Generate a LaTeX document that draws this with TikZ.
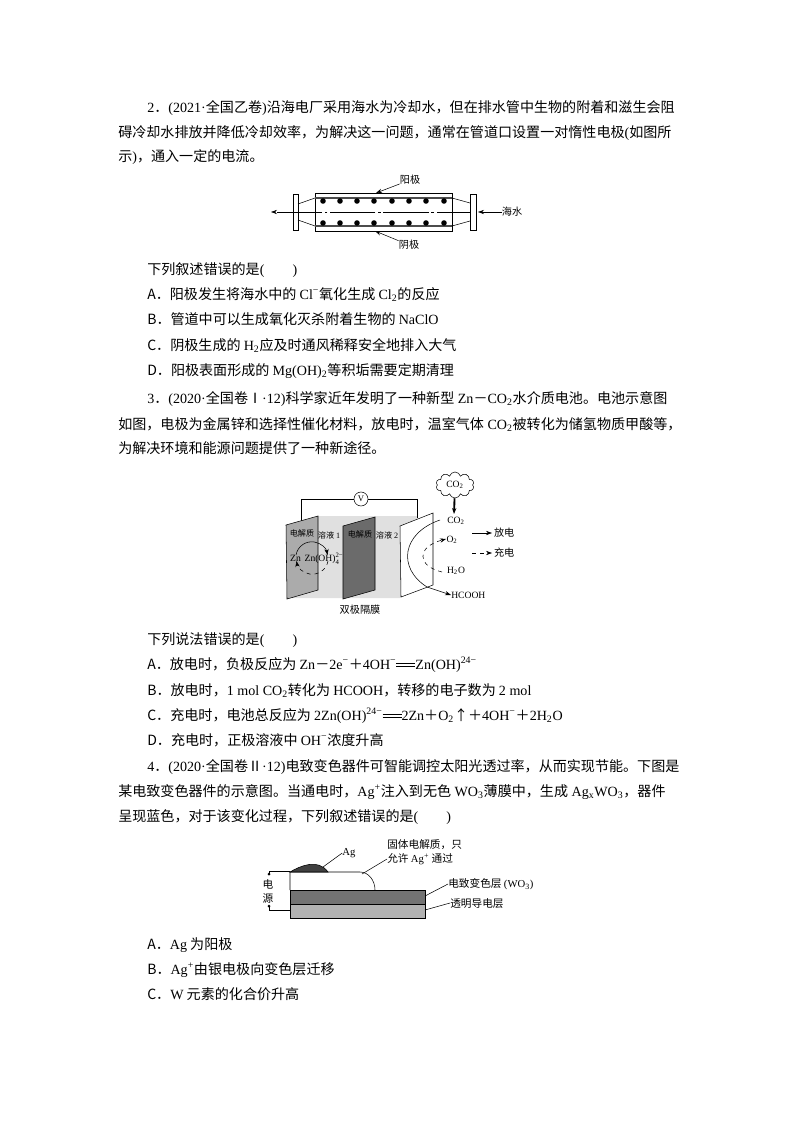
\documentclass[tikz,border=0pt]{standalone}
\usepackage{amsmath}
\usepackage{fontspec}
\usetikzlibrary{shapes.symbols,arrows.meta}
\setmainfont{Noto Sans CJK SC}
\newfontfamily\lat{Liberation Serif}
\XeTeXlinebreaklocale "zh"
\XeTeXlinebreakskip=0pt plus 2pt minus 0.5pt
\newcommand{\dn}[1]{$_{\text{\lat #1}}$}
\newcommand{\up}[1]{$^{\text{\lat #1}}$}
\newcommand{\eqq}{\rlap{\rule[.16em]{1.35em}{.07em}}\rule[.36em]{1.35em}{.07em}}
\tikzset{
    para/.style={anchor=base west,inner sep=0pt,font=\fontsize{10.55}{13}\selectfont},
    lab/.style={inner sep=0pt,font=\fontsize{7.6}{9}\selectfont},
    dev lab/.style={inner sep=0pt,font=\fontsize{8}{10}\selectfont},
    tiny lab/.style={inner sep=0pt,font=\fontsize{6.1}{7}\selectfont},
    chem lab/.style={inner sep=0pt,font=\fontsize{7.2}{8}\selectfont},
}
\begin{document}
\begin{tikzpicture}[x=0.75pt,y=-0.75pt,>={Stealth[length=4.5pt,width=3.2pt]}]
    \path[use as bounding box,fill=white] (0,0) rectangle (794,1123);
    %% question 2
    \node[para] (qa1) at (147,113) {\makebox[394.5pt][s]{{\lat 2}．{\lat (2021·}全国乙卷{\lat )}沿海电厂采用海水为冷却水，但在排水管中生物的附着和滋生会阻}};
    \node[para] (qa2) at (118,138) {\makebox[417pt][s]{碍冷却水排放并降低冷却效率，为解决这一问题，通常在管道口设置一对惰性电极{\lat (}如图所}};
    \node[para] (qa3) at (118,162) {示{\lat )}，通入一定的电流。};
    \node[para] (qa4) at (147,274) {下列叙述错误的是{\lat (}\hspace{2em}{\lat )}};
    \node[para] (qaA) at (147,299) {A．阳极发生将海水中的 {\lat Cl}\up{−}氧化生成 {\lat Cl}\dn{2}的反应};
    \node[para] (qaB) at (147,324) {B．管道中可以生成氧化灭杀附着生物的 {\lat NaClO}};
    \node[para] (qaC) at (147,350) {C．阴极生成的 {\lat H}\dn{2}应及时通风稀释安全地排入大气};
    \node[para] (qaD) at (147,375) {D．阳极表面形成的 {\lat Mg(OH)}\dn{2}等积垢需要定期清理};
    %% question 3
    \node[para] (qb1) at (147,403) {\makebox[394.5pt][s]{{\lat 3}．{\lat (2020·}全国卷Ⅰ{\lat ·12)}科学家近年发明了一种新型\hspace{.25em}{\lat Zn}－{\lat CO}\dn{2}水介质电池。电池示意图}};
    \node[para] (qb2) at (118,429) {\makebox[418.5pt][s]{如图，电极为金属锌和选择性催化材料，放电时，温室气体\hspace{.25em}{\lat CO}\dn{2}被转化为储氢物质甲酸等，}};
    \node[para] (qb3) at (118,453) {为解决环境和能源问题提供了一种新途径。};
    \node[para] (qb4) at (147,644) {下列说法错误的是{\lat (}\hspace{2em}{\lat )}};
    \node[para] (qbA) at (147,669) {A．放电时，负极反应为 {\lat Zn}－{\lat 2e}\up{−}＋{\lat 4OH}\up{−}\eqq{\lat Zn(OH)}\up{24−}};
    \node[para] (qbB) at (147,695) {B．放电时，{\lat 1 mol CO}\dn{2}转化为 {\lat HCOOH}，转移的电子数为 {\lat 2 mol}};
    \node[para] (qbC) at (147,720) {C．充电时，电池总反应为 {\lat 2Zn(OH)}\up{24−}\eqq{\lat 2Zn}＋{\lat O}\dn{2}↑＋{\lat 4OH}\up{−}＋{\lat 2H}\dn{2}{\lat O}};
    \node[para] (qbD) at (147,745) {D．充电时，正极溶液中 {\lat OH}\up{−}浓度升高};
    %% question 4
    \node[para] (qc1) at (147,771) {\makebox[394.5pt][s]{{\lat 4}．{\lat (2020·}全国卷Ⅱ{\lat ·12)}电致变色器件可智能调控太阳光透过率，从而实现节能。下图是}};
    \node[para] (qc2) at (118,796) {\makebox[416.25pt][s]{某电致变色器件的示意图。当通电时，{\lat Ag}\up{+}注入到无色\hspace{.25em}{\lat WO}\dn{3}薄膜中，生成\hspace{.25em}{\lat Ag}\dn{x}{\lat WO}\dn{3}，器件}};
    \node[para] (qc3) at (118,821) {呈现蓝色，对于该变化过程，下列叙述错误的是{\lat (}\hspace{2em}{\lat )}};
    \node[para] (qcA) at (147,949) {A．{\lat Ag} 为阳极};
    \node[para] (qcB) at (147,974) {B．{\lat Ag}\up{+}由银电极向变色层迁移};
    \node[para] (qcC) at (147,999) {C．{\lat W} 元素的化合价升高};
    %% pipe
    \draw (315,193) rectangle (452,231);
    \draw[thick,black!70] (315,198) -- (452,198);
    \draw[thick,black!70] (315,226) -- (452,226);
    \draw[fill=white] (293,194) rectangle (298,230);
    \draw[fill=white] (470,194) rectangle (476,230);
    \draw (298,204) -- (315,198) (298,220) -- (315,226);
    \draw (452,198) -- (470,203) (452,226) -- (470,221);
    \foreach \x in {323,340,357,374,392,409,426,444} {
        \fill (\x,201) circle (2.8);
        \fill (\x,223) circle (2.8);
    }
    \coordinate (pipeend) at (271,212);
    \coordinate (pipestart) at (470,212);
    \draw[->,dash pattern=on 34pt off 2pt on 2pt off 2pt,dash phase=9pt] (pipestart) -- (pipeend);
    \node[lab] (seawater) at (512,212) {海水};
    \coordinate (pipein) at (478,212);
    \draw[->] (seawater) -- (pipein);
    \node[lab] (anode) at (410,180) {阳极};
    \node[lab] (cathode) at (409,245) {阴极};
    \coordinate (anodeend) at (376,193);
    \coordinate (cathodeend) at (375,231);
    \draw[->] (anode) -- (anodeend);
    \draw[->] (cathode) -- (cathodeend);
    %% battery
    \fill[black!12] (318,516) -- (417,516) -- (417,560) -- (400,598) -- (287,598) -- cycle;
    \node[draw,circle,minimum size=10.5pt,inner sep=0pt,fill=white,font=\fontsize{6.5}{7}\selectfont] (volt) at (361,499) {\lat V};
    \coordinate (wirea) at (301,521);
    \coordinate (wireb) at (417,518);
    \draw (wirea) |- (volt) -| (wireb);
    \draw[fill=black!33] (286,525) -- (318,516) -- (318,590) -- (287,599) -- cycle;
    \draw[fill=black!58] (343,526) -- (375,517) -- (375,590) -- (343,599) -- cycle;
    \draw[fill=white] (400,526) -- (433,513) -- (433,585) -- (401,597) -- cycle;
    \node[tiny lab] (elyta) at (302,533) {电解质};
    \node[tiny lab] (solna) at (329,535) {溶液 {\lat 1}};
    \node[tiny lab] (elytb) at (360,534) {电解质};
    \node[tiny lab] (solnb) at (387,535) {溶液 {\lat 2}};
    \node[chem lab] (zn) at (295.5,558) {\lat Zn};
    \node[chem lab] (znoh) at (324,559) {{\lat Zn(OH)}$^{\text{\lat 2−}}_{\text{\lat 4}}$};
    \draw[->] (296,555) arc (-170:-10:16);
    \draw[->,dashed] (328,561) arc (10:170:16);
    \node[cloud,draw,cloud puffs=10,aspect=1.5,inner sep=0pt,minimum width=28.5pt,minimum height=19.5pt,chem lab] (cloud) at (455,485) {{\lat CO}\dn{2}};
    \node[chem lab] (coa) at (456,521) {{\lat CO}\dn{2}};
    \coordinate (coatop) at (454,514);
    \draw[->,line width=1.4pt] (cloud) -- (coatop);
    \node[chem lab] (otwo) at (452,540) {{\lat O}\dn{2}};
    \node[chem lab] (water) at (456,571) {{\lat H}\dn{2}{\lat O}};
    \node[chem lab,anchor=west] (formic) at (451,595) {\lat HCOOH};
    \coordinate (curvea) at (440,520);
    \coordinate (curveb) at (427,587);
    \coordinate (dasha) at (442,572);
    \coordinate (dashb) at (446,539);
    \draw[->] (curvea) .. controls (402,533) and (397,568) .. (curveb) -- (formic.west);
    \draw[->,dashed] (dasha) .. controls (417,566) and (416,547) .. (dashb);
    \node[lab,anchor=west,outer sep=1.5pt] (disch) at (492,533) {放电};
    \node[lab,anchor=west,outer sep=1.5pt] (charg) at (492,553) {充电};
    \coordinate (dischs) at (472,533);
    \coordinate (chargs) at (472,553);
    \draw[->] (dischs) -- (disch);
    \draw[->,dashed] (chargs) -- (charg);
    \node[lab] (membrane) at (360,610) {双极隔膜};
    %% film device
    \draw[fill=black!55] (290,890) rectangle (425,904);
    \draw[fill=black!30] (290,904) rectangle (425,918);
    \draw (290,890) -- (290,872) -- (360,872) arc (-90:0:15 and 18);
    \draw[fill=black!75] (290,872) .. controls (300,866) and (318,858) .. (328,872) -- cycle;
    \node[dev lab] (silver) at (349,853) {\lat Ag};
    \coordinate (silvertip) at (323,867);
    \draw (silvertip) -- (silver.west);
    \node[dev lab,anchor=west] (solida) at (387,845) {固体电解质，只};
    \node[dev lab,anchor=west] (solidb) at (387,859) {允许 {\lat Ag}\up{+} 通过};
    \coordinate (solidtip) at (362,874);
    \draw (solidtip) -- (solidb.west);
    \node[dev lab,anchor=west] (ecl) at (448,884) {电致变色层 {\lat (WO}\dn{3}{\lat )}};
    \node[dev lab,anchor=west] (tcl) at (450,903) {透明导电层};
    \coordinate (ecltip) at (425,896);
    \coordinate (tcltip) at (425,910);
    \draw (ecltip) -- (ecl.west);
    \draw (tcltip) -- (tcl.west);
    \node[dev lab] (srca) at (268,884) {电};
    \node[dev lab] (srcb) at (268,898) {源};
    \coordinate (pola) at (269,874);
    \coordinate (polb) at (269,906);
    \fill (pola) circle (1.5);
    \fill (polb) circle (1.5);
    \draw (pola) |- (290,871.5);
    \draw (polb) |- (290,910);
\end{tikzpicture}
\end{document}
